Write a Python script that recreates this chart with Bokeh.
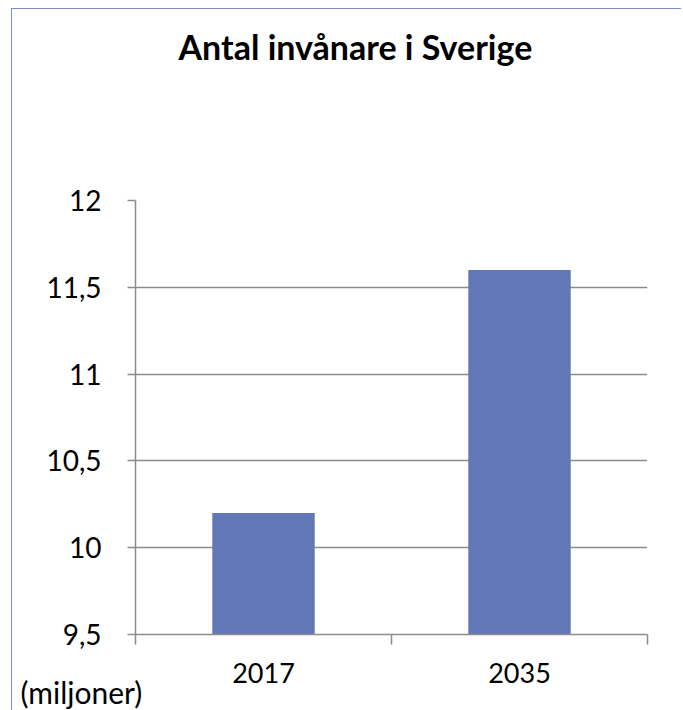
from bokeh.plotting import figure
from bokeh.models import FixedTicker, Range1d, Title
from bokeh.embed import file_html
from bokeh.resources import INLINE

title_text = "Antal invånare i Sverige"
unit_text = "(miljoner)"
categories = ["2017", "2035"]
population = [10.2, 11.6]
y_ticks = [9.5, 10, 10.5, 11, 11.5, 12]
y_tick_labels = ["9,5", "10", "10,5", "11", "11,5", "12"]

BAR = "#6177B6"
GRID = "#8C8C8C"

p = figure(width=670, height=702, output_backend="svg", toolbar_location=None,
           x_range=Range1d(0, len(categories)), y_range=Range1d(9.5, 12),
           min_border_left=123, min_border_right=35, min_border_top=191, min_border_bottom=77)
p.styles = {"border-left": "1px solid #7A8FCB", "border-top": "1px solid #7A8FCB",
            "margin-left": "11px", "margin-top": "8px"}
p.outline_line_color = None
p.background_fill_color = "white"

xs = [i + 0.5 for i in range(len(categories))]
p.vbar(x=xs, top=population, bottom=9.5, width=0.4, fill_color=BAR, line_color=None)

# x axis
p.xaxis.ticker = FixedTicker(ticks=xs, minor_ticks=list(range(len(categories) + 1)))
p.xaxis.major_label_overrides = {x: c for x, c in zip(xs, categories)}
p.xaxis.major_tick_line_color = None
p.xaxis.minor_tick_line_color = GRID
p.xaxis.minor_tick_line_width = 1.5
p.xaxis.minor_tick_out = 10
p.xaxis.minor_tick_in = 0
p.xaxis.axis_line_color = GRID
p.xaxis.axis_line_width = 1.5
p.xaxis.major_label_text_font = "Lato"
p.xaxis.major_label_text_font_size = "27px"
p.xaxis.major_label_text_color = "black"
p.xaxis.major_label_standoff = 18
p.xgrid.grid_line_color = None

# y axis
p.yaxis.ticker = FixedTicker(ticks=y_ticks, minor_ticks=[])
p.yaxis.major_label_overrides = {t: l for t, l in zip(y_ticks, y_tick_labels)}
p.yaxis.major_tick_line_color = GRID
p.yaxis.major_tick_line_width = 1.5
p.yaxis.major_tick_out = 8
p.yaxis.major_tick_in = 0
p.yaxis.axis_line_color = GRID
p.yaxis.axis_line_width = 1.5
p.yaxis.major_label_text_font = "Lato"
p.yaxis.major_label_text_font_size = "28px"
p.yaxis.major_label_text_color = "black"
p.yaxis.major_label_standoff = 26
p.ygrid.grid_line_color = GRID
p.ygrid.grid_line_width = 1.5

# empty spacer between the frame and the title
p.add_layout(Title(text=" ", text_font_size="1px", standoff=131), "above")
p.title = Title(text=title_text, align="left", offset=43, standoff=0,
                text_font="Lato", text_font_style="bold", text_font_size="34px",
                text_color="black")
p.add_layout(Title(text=unit_text, align="left", offset=-115, standoff=-28,
                   text_font="Lato", text_font_style="normal", text_font_size="30px",
                   text_color="black"), "below")

open("out.html", "w").write(file_html(p, INLINE))
